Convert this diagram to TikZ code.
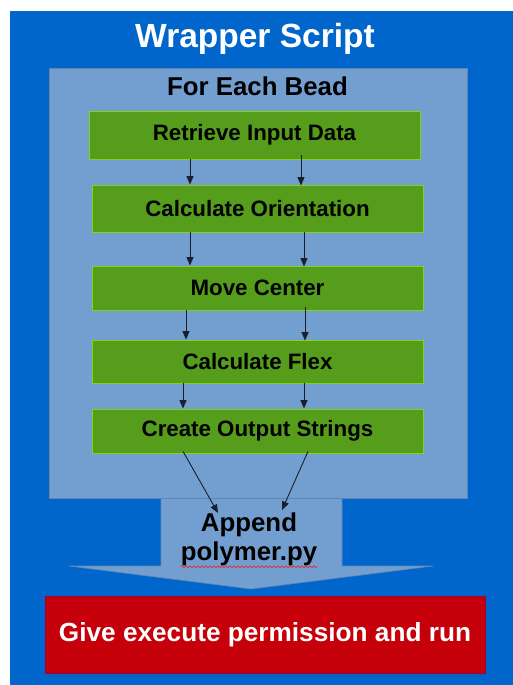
\documentclass[tikz,border=0pt]{standalone}
\usepackage{fontspec}
\setmainfont{Liberation Sans}
\usetikzlibrary{arrows.meta,decorations.pathmorphing,calc}
\definecolor{bgblue}{HTML}{0066CC}
\definecolor{lightblue}{HTML}{729FCF}
\definecolor{boxgreen}{HTML}{579D1C}
\definecolor{greenedge}{HTML}{81D41A}
\definecolor{runred}{HTML}{C5000B}
\definecolor{arrowink}{HTML}{1A1F2E}
\definecolor{spellred}{HTML}{E8262A}
\begin{document}
\begin{tikzpicture}[x=1pt,y=-1pt,
  stepbox/.style={draw=greenedge, line width=0.8pt, fill=boxgreen, minimum width=331pt, inner sep=0pt,
    font=\fontsize{22.3}{24}\selectfont\bfseries, text=black},
  flow/.style={draw=arrowink, line width=0.9pt, -{Triangle[length=8.5pt,width=7pt]}},
  panel/.style={draw=lightblue!85!black, line width=0.6pt, fill=lightblue, inner sep=0pt}]
\useasboundingbox (0,0) rectangle (513,685);
\fill[white] (0,0) rectangle (513,685);
% background
\node[fill=bgblue, inner sep=0pt, minimum width=503pt, minimum height=674pt, anchor=north west] (bg) at (10,11) {};
\node[text=white, font=\fontsize{33.5}{38}\selectfont\bfseries] (title) at (255,38.5) {Wrapper Script};
% big arrow (stem + head)
\draw[panel] (161,497) -- (342,497) -- (342,566) -- (433,566) -- (251,589) -- (69,566) -- (161,566) -- cycle;
% bead panel
\node[panel, minimum width=418pt, minimum height=430pt] (bead) at (258,283) {};
\node[font=\fontsize{25.8}{29}\selectfont\bfseries] (beadtitle) at (257.5,86) {For Each Bead};
% steps
\node[stepbox, minimum height=48pt] (s1) at (254.5,135) {\raisebox{-1pt}{Retrieve Input Data}};
\node[stepbox, minimum height=47pt] (s2) at (257.5,208.5) {\raisebox{-1pt}{Calculate Orientation}};
\node[stepbox, minimum height=44pt] (s3) at (257.5,288) {\raisebox{-1pt}{Move Center}};
\node[stepbox, minimum height=43pt] (s4) at (257.5,361.5) {\raisebox{-1pt}{Calculate Flex}};
\node[stepbox, minimum height=44pt] (s5) at (257.5,431) {\raisebox{-1pt}{Create Output Strings}};
% append
\node[font=\fontsize{25.8}{29}\selectfont\bfseries, align=center, inner sep=0pt] (app) at (249,539) {Append\\polymer.py};
\draw[spellred, line width=0.7pt, decorate, decoration={snake, segment length=4pt, amplitude=0.9pt}]
  ($(app.south west)+(0,1)$) -- ($(app.south east)+(0,1)$);
% arrows
\draw[flow] (s1.south -| 190,0) -- (s2.north -| 190,0);
\draw[flow] ([yshift=4pt]s1.south -| 301,0) -- ([yshift=-1pt]s2.north -| 301,0);
\draw[flow] (s2.south -| 190,0) -- (s3.north -| 190,0);
\draw[flow] (s2.south -| 304,0) -- ([yshift=-1pt]s3.north -| 304,0);
\draw[flow] (s3.south -| 186,0) -- (s4.north -| 186,0);
\draw[flow] ([yshift=3pt]s3.south -| 305,0) -- ([yshift=-1pt]s4.north -| 305,0);
\draw[flow] (s4.south -| 183,0) -- (s5.north -| 183,0);
\draw[flow] (s4.south -| 304,0) -- (s5.north -| 304,0);
\coordinate (a1) at (218,513);
\coordinate (a2) at (282,510);
\draw[flow] ([yshift=2pt]s5.south -| 183,0) -- (a1);
\draw[flow] ([yshift=2pt]s5.south -| 308,0) -- (a2);
% red box
\node[fill=runred, draw=runred!80!blue, line width=0.6pt, minimum width=440pt, minimum height=77pt,
  text=white, font=\fontsize{26.2}{30}\selectfont\bfseries] (run) at (265,634.5) {\raisebox{-1pt}{Give execute permission and run}};
\end{tikzpicture}
\end{document}
